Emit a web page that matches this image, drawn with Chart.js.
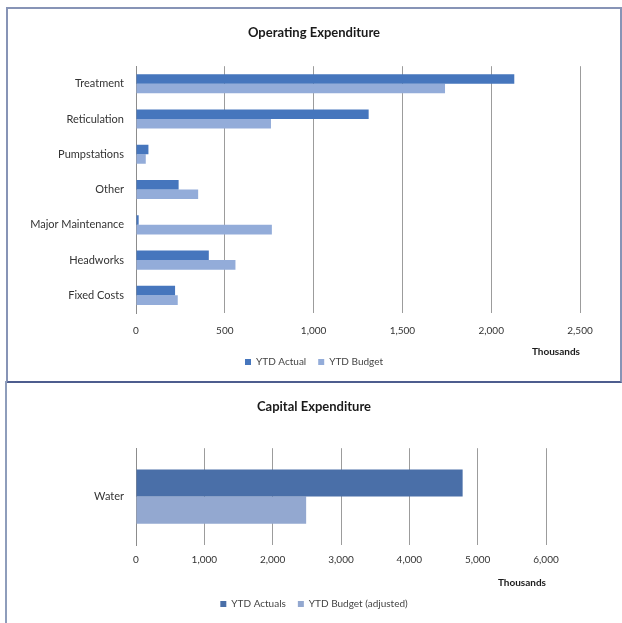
<!DOCTYPE html>
<html>
<head>
<meta charset="utf-8">
<script src="https://cdn.jsdelivr.net/npm/chart.js@4.4.0/dist/chart.umd.min.js"></script>
<style>
  html, body { margin: 0; padding: 0; background: #ffffff; }
  body { width: 622px; height: 623px; position: relative; overflow: hidden; }
  #frame1 { position: absolute; left: 6px; top: 7px; width: 612px; height: 372px; border: 2px solid #8794b6; border-bottom-color: #4e5d8e; }
  #frame2 { position: absolute; left: 5px; top: 381px; width: 0; height: 242px; border-left: 2px solid #8e9dbb; }
  #c1wrap { position: absolute; left: 8px; top: 8px; width: 612px; height: 373px; }
  #c2wrap { position: absolute; left: 6px; top: 382px; width: 616px; height: 241px; }
</style>
</head>
<body>
<div id="frame1"></div>
<div id="frame2"></div>
<div id="c1wrap"><canvas id="c1" width="612" height="373"></canvas></div>
<div id="c2wrap"><canvas id="c2" width="616" height="241"></canvas></div>
<script>
// ---- Operating Expenditure data (Thousands) ----
const opCategories = ["Treatment", "Reticulation", "Pumpstations", "Other", "Major Maintenance", "Headworks", "Fixed Costs"];
const opActual = [2130, 1310, 70, 240, 15, 410, 220];
const opBudget = [1740, 760, 55, 350, 765, 560, 235];
const opSeriesNames = ["YTD Actual", "YTD Budget"];
const opTicks = [0, 500, 1000, 1500, 2000, 2500];

// ---- Capital Expenditure data (Thousands) ----
const capCategories = ["Water"];
const capActual = [4780];
const capBudget = [2490];
const capSeriesNames = ["YTD Actuals", "YTD Budget (adjusted)"];
const capTicks = [0, 1000, 2000, 3000, 4000, 5000, 6000];

const FONT = "Lato, 'Liberation Sans', sans-serif";
Chart.defaults.font.family = FONT;
Chart.defaults.color = "#333333";
Chart.defaults.animation = false;

function fmt(v) { return v.toLocaleString('en-US'); }

function makeChart(id, cfg) {
  return new Chart(document.getElementById(id), {
    type: 'bar',
    data: {
      labels: cfg.categories,
      datasets: [
        { label: cfg.names[0], data: cfg.actual, backgroundColor: cfg.colA, borderWidth: 0,
          categoryPercentage: cfg.catPct, barPercentage: 1.0 },
        { label: cfg.names[1], data: cfg.budget, backgroundColor: cfg.colB, borderWidth: 0,
          categoryPercentage: cfg.catPct, barPercentage: 1.0 }
      ]
    },
    options: {
      indexAxis: 'y',
      responsive: false,
      maintainAspectRatio: false,
      layout: { padding: { left: 0, right: 0, top: 0, bottom: 4 } },
      plugins: {
        title: {
          display: true, text: cfg.title, color: '#1a1a1a',
          font: { size: 13, weight: 'bold', family: FONT },
          padding: { top: cfg.titleTop, bottom: cfg.titleBottom }
        },
        legend: {
          position: 'bottom',
          labels: { boxWidth: 6, boxHeight: 6, padding: 12, color: '#444', font: { size: 10, family: FONT } }
        },
        tooltip: { enabled: false }
      },
      scales: {
        x: {
          min: cfg.ticks[0], max: cfg.ticks[cfg.ticks.length - 1],
          afterBuildTicks: (axis) => { axis.ticks = cfg.ticks.map(v => ({ value: v })); },
          afterFit: (axis) => { axis.height = cfg.xHeight; },
          grid: { color: '#9c9c9c', lineWidth: 1, drawTicks: false },
          border: { display: false },
          ticks: { padding: cfg.xTickPad, color: '#333', font: { size: 10, family: FONT }, callback: (v) => fmt(v) },
          title: {
            display: true, text: 'Thousands', align: 'end', color: '#1a1a1a',
            font: { size: 10, weight: 'bold', family: FONT },
            padding: { top: 0, bottom: cfg.xTitlePadB }
          }
        },
        y: {
          afterFit: (axis) => { axis.width = cfg.yWidth; },
          grid: { display: false, drawTicks: false },
          border: { display: true, color: '#8c8c8c', width: 1 },
          ticks: { padding: 12, color: '#333', font: { size: 11, family: FONT } }
        },
        yRight: {
          axis: 'y', type: 'category', position: 'right', display: true,
          afterFit: (axis) => { axis.width = cfg.rightSpace; },
          grid: { display: false, drawTicks: false },
          border: { display: false },
          ticks: { display: false }
        }
      }
    }
  });
}

makeChart('c1', {
  categories: opCategories, actual: opActual, budget: opBudget, names: opSeriesNames, ticks: opTicks,
  title: 'Operating Expenditure', colA: '#4676bd', colB: '#93acd9', catPct: 0.54,
  rightSpace: 40, titleTop: 16.8, titleBottom: 25.8, xHeight: 32, xTickPad: 12, xTitlePadB: -13, yWidth: 128
});

makeChart('c2', {
  categories: capCategories, actual: capActual, budget: capBudget, names: capSeriesNames, ticks: capTicks,
  title: 'Capital Expenditure', colA: '#4a6fa8', colB: '#93a8d0', catPct: 0.56,
  rightSpace: 76, titleTop: 16.8, titleBottom: 33.8, xHeight: 42, xTickPad: 9, xTitlePadB: -2, yWidth: 130
});
</script>
</body>
</html>
